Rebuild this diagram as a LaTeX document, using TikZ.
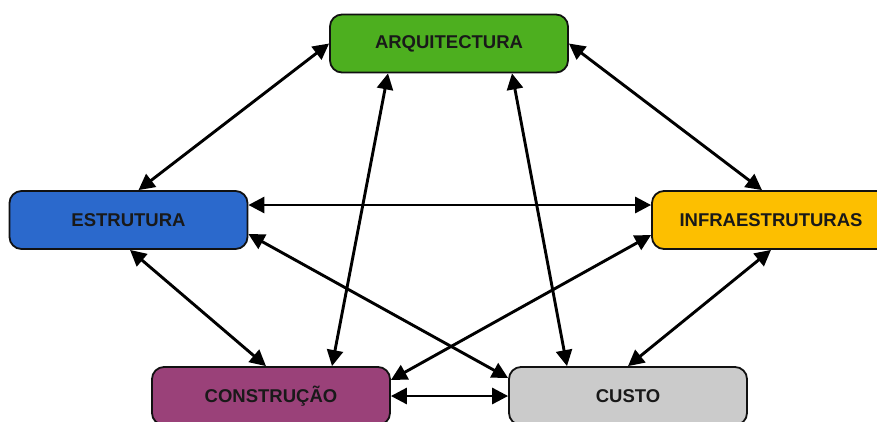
\documentclass[tikz,border=0pt]{standalone}
\usepackage{fontspec}
\setmainfont{Liberation Sans}
\usetikzlibrary{arrows.meta}
\definecolor{arqgreen}{HTML}{4DAF1F}
\definecolor{estblue}{HTML}{2B69CC}
\definecolor{infyellow}{HTML}{FDBF00}
\definecolor{conpurple}{HTML}{9A4179}
\definecolor{cusgrey}{HTML}{CBCBCB}
\definecolor{edgeblack}{HTML}{111111}
\tikzset{
  box/.style={draw=edgeblack, line width=1.8pt, rounded corners=12pt,
    minimum width=238pt, minimum height=58pt, inner sep=0pt,
    font=\fontsize{18.5}{20}\selectfont\bfseries, text=black!90},
  link/.style={line width=2.9pt, draw=black,
    {Triangle[length=16pt,width=16pt]}-{Triangle[length=16pt,width=16pt]}},
}
\begin{document}
\begin{tikzpicture}[x=1pt,y=-1pt]
\useasboundingbox (0,0) rectangle (877,421);
\fill[white] (0,0) rectangle (877,421);
\begin{scope}
\clip (0,0) rectangle (877,421);
\node[box, fill=arqgreen]  (arq) at (449,43.5) {ARQUITECTURA};
\node[box, fill=estblue]   (est) at (128.5,220) {ESTRUTURA};
\node[box, fill=infyellow] (inf) at (771,220) {INFRAESTRUTURAS};
\node[box, fill=conpurple] (con) at (271,396) {CONSTRUÇÃO};
\node[box, fill=cusgrey]   (cus) at (628,396) {CUSTO};

\draw[link] (arq.west) -- ([xshift=10pt]est.north);
\draw[link] (arq.east) -- ([xshift=-9pt]inf.north);
\draw[link] ([yshift=15pt]est.east) -- ([yshift=15pt]inf.west);
\draw[link] ([yshift=-14pt]est.east) -- ([yshift=18pt]cus.west);
\draw[link] ([xshift=1.5pt]est.south) -- ([xshift=-5pt]con.north);
\draw[link] ([xshift=-61pt]arq.south) -- ([xshift=61pt]con.north);
\draw[link] ([xshift=63pt]arq.south) -- ([xshift=-61pt]cus.north);
\draw[link] ([yshift=-15pt]inf.west) -- ([yshift=16pt]con.east);
\draw[link] (inf.south) -- (cus.north);
\draw[link] (con.east) -- (cus.west);
\end{scope}
\end{tikzpicture}
\end{document}
